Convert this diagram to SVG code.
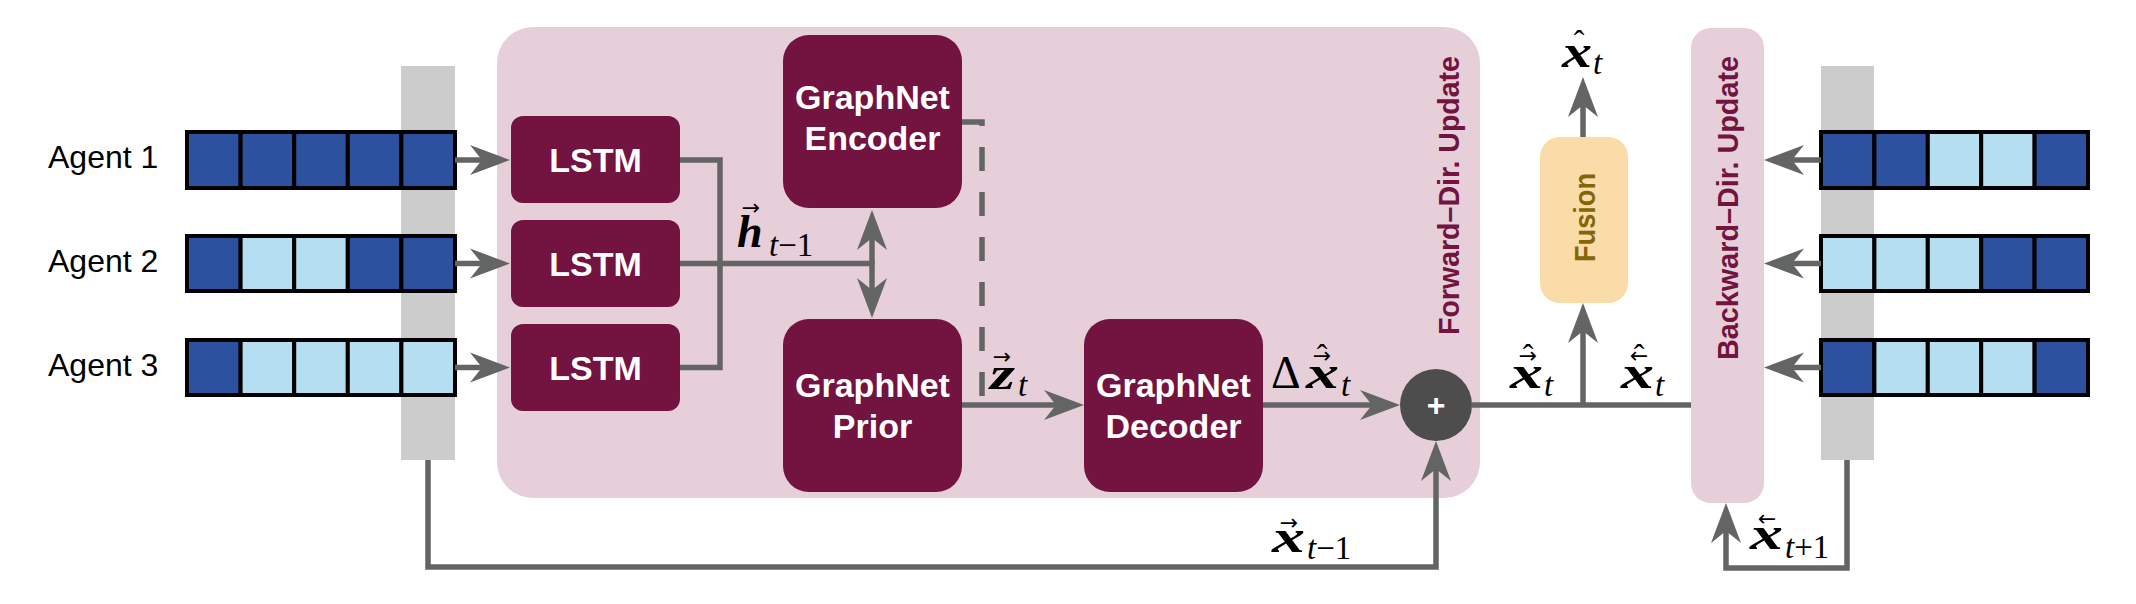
<svg xmlns="http://www.w3.org/2000/svg" width="2136" height="604" viewBox="0 0 2136 604">
<defs>
<style>
.agent{font-family:"Liberation Sans",Arial,sans-serif;font-size:32px;fill:#000}
.node{fill:#721340}
.nlab{font-family:"Liberation Sans",Arial,sans-serif;font-weight:bold;font-size:34px;fill:#fff;text-anchor:middle}
.pink{fill:#E6CFD9}
.vlab{font-family:"Liberation Sans",Arial,sans-serif;font-weight:bold;font-size:29px;fill:#721340}
.bar{fill:#CCCCCC}
.d{fill:#2C519E;stroke:#000;stroke-width:4}
.l{fill:#B5DFF0;stroke:#000;stroke-width:4}
.c{fill:none;stroke:#636564;stroke-width:5.5;stroke-linejoin:miter}
.arr{marker-end:url(#ah)}
.mb{font-family:"Liberation Serif","Times New Roman",serif;font-weight:bold;font-style:italic;font-size:46px;fill:#000}
.ms{font-family:"Liberation Serif","Times New Roman",serif;font-size:33px;fill:#000}
.it{font-style:italic}
.acc{font-family:"DejaVu Sans",sans-serif;font-size:22px;fill:#000;text-anchor:middle}
.hat{font-family:"Liberation Serif",serif;font-size:32px;fill:#000;text-anchor:middle}
</style>
<marker id="ah" viewBox="-16 -16 42 32" markerWidth="42" markerHeight="32" refX="0" refY="0" orient="auto" markerUnits="userSpaceOnUse">
<path d="M25,0 L-15,-15 L-3,0 L-15,15 Z" fill="#636564"/>
</marker>
</defs>

<g id="forward-block">
<rect class="pink" x="497" y="27" width="983" height="471" rx="36"/>
<text class="vlab" transform="translate(1459,335) rotate(-90)" textLength="279" lengthAdjust="spacingAndGlyphs">Forward–Dir. Update</text>
</g>
<g id="backward-block">
<rect class="pink" x="1691" y="28" width="73" height="475" rx="20"/>
<text class="vlab" transform="translate(1738,360) rotate(-90)" textLength="304" lengthAdjust="spacingAndGlyphs">Backward–Dir. Update</text>
</g>

<g id="left-bar"><rect class="bar" x="401" y="66" width="54" height="394"/></g>
<g id="right-bar"><rect class="bar" x="1821" y="66" width="53" height="394"/></g>

<g id="agent1">
<text class="agent" x="48" y="168">Agent 1</text>
<rect class="d" x="187" y="132" width="53.6" height="56"/><rect class="d" x="240.6" y="132" width="53.6" height="56"/><rect class="d" x="294.2" y="132" width="53.6" height="56"/><rect class="d" x="347.8" y="132" width="53.6" height="56"/><rect class="d" x="401.4" y="132" width="53.6" height="56"/>
</g>
<g id="agent2">
<text class="agent" x="48" y="272">Agent 2</text>
<rect class="d" x="187" y="236" width="53.6" height="55"/><rect class="l" x="240.6" y="236" width="53.6" height="55"/><rect class="l" x="294.2" y="236" width="53.6" height="55"/><rect class="d" x="347.8" y="236" width="53.6" height="55"/><rect class="d" x="401.4" y="236" width="53.6" height="55"/>
</g>
<g id="agent3">
<text class="agent" x="48" y="376">Agent 3</text>
<rect class="d" x="187" y="340" width="53.6" height="55"/><rect class="l" x="240.6" y="340" width="53.6" height="55"/><rect class="l" x="294.2" y="340" width="53.6" height="55"/><rect class="l" x="347.8" y="340" width="53.6" height="55"/><rect class="l" x="401.4" y="340" width="53.6" height="55"/>
</g>

<g id="future1">
<rect class="d" x="1821" y="132" width="53.4" height="56"/><rect class="d" x="1874.4" y="132" width="53.4" height="56"/><rect class="l" x="1927.8" y="132" width="53.4" height="56"/><rect class="l" x="1981.2" y="132" width="53.4" height="56"/><rect class="d" x="2034.6" y="132" width="53.4" height="56"/>
</g>
<g id="future2">
<rect class="l" x="1821" y="236" width="53.4" height="55"/><rect class="l" x="1874.4" y="236" width="53.4" height="55"/><rect class="l" x="1927.8" y="236" width="53.4" height="55"/><rect class="d" x="1981.2" y="236" width="53.4" height="55"/><rect class="d" x="2034.6" y="236" width="53.4" height="55"/>
</g>
<g id="future3">
<rect class="d" x="1821" y="340" width="53.4" height="55"/><rect class="l" x="1874.4" y="340" width="53.4" height="55"/><rect class="l" x="1927.8" y="340" width="53.4" height="55"/><rect class="l" x="1981.2" y="340" width="53.4" height="55"/><rect class="d" x="2034.6" y="340" width="53.4" height="55"/>
</g>

<g id="lstm1"><rect class="node" x="511" y="116" width="169" height="87" rx="12"/><text class="nlab" x="595.5" y="172">LSTM</text></g>
<g id="lstm2"><rect class="node" x="511" y="220" width="169" height="87" rx="12"/><text class="nlab" x="595.5" y="276">LSTM</text></g>
<g id="lstm3"><rect class="node" x="511" y="324" width="169" height="87" rx="12"/><text class="nlab" x="595.5" y="380">LSTM</text></g>

<g id="encoder"><rect class="node" x="783" y="35" width="179" height="173" rx="26"/><text class="nlab" x="872.5" y="109">GraphNet</text><text class="nlab" x="872.5" y="150">Encoder</text></g>
<g id="prior"><rect class="node" x="783" y="319" width="179" height="173" rx="26"/><text class="nlab" x="872.5" y="397">GraphNet</text><text class="nlab" x="872.5" y="438">Prior</text></g>
<g id="decoder"><rect class="node" x="1084" y="319" width="179" height="173" rx="26"/><text class="nlab" x="1173.5" y="397">GraphNet</text><text class="nlab" x="1173.5" y="438">Decoder</text></g>

<g id="fusion"><rect x="1540" y="137" width="88" height="166" rx="20" fill="#F9DCA8"/><text class="vlab" style="fill:#85650A" transform="translate(1595,262) rotate(-90)" textLength="89" lengthAdjust="spacingAndGlyphs">Fusion</text></g>

<g id="sum"><circle cx="1436" cy="405" r="36" fill="#4D4D4D"/><text x="1436" y="416" font-family="Liberation Sans,Arial,sans-serif" font-weight="bold" font-size="32" fill="#fff" text-anchor="middle">+</text></g>

<g id="connectors">
<path class="c arr" d="M455,160 H485"/>
<path class="c arr" d="M455,263.5 H485"/>
<path class="c arr" d="M455,367.5 H485"/>
<path class="c" d="M680,160 H720 V367.5 H680"/>
<path class="c" d="M680,263.5 H872"/>
<path class="c arr" d="M872,265 V235"/>
<path class="c arr" d="M872,261 V293"/>
<path class="c" d="M962,122 H982 V405" stroke-dasharray="24 21"/>
<path class="c arr" d="M962,405 H1059"/>
<path class="c arr" d="M1263,405 H1375"/>
<path class="c" d="M1472,405 H1691"/>
<path class="c arr" d="M1583,405 V328"/>
<path class="c arr" d="M1583,137 V102"/>
<path class="c arr" d="M428,460 V567 H1436 V466"/>
<path class="c arr" d="M1847,460 V568 H1726 V528"/>
<path class="c arr" d="M1821,160 H1789"/>
<path class="c arr" d="M1821,263.5 H1789"/>
<path class="c arr" d="M1821,367.5 H1789"/>
</g>

<g id="labels">
<text class="acc" x="751" y="215">→</text>
<text class="mb" x="737" y="247">h</text>
<text class="ms" x="769" y="256"><tspan class="it">t</tspan>−1</text>

<text class="acc" x="1002" y="364">→</text>
<text class="mb" x="990" y="389" textLength="25" lengthAdjust="spacingAndGlyphs">z</text>
<text class="ms it" x="1018" y="396">t</text>

<text class="ms" x="1271" y="388" style="font-size:46px">Δ</text>
<text class="hat" x="1322" y="366">ˆ</text>
<text class="acc" x="1322" y="363">→</text>
<text class="mb" x="1306" y="388" textLength="33" lengthAdjust="spacingAndGlyphs">x</text>
<text class="ms it" x="1341" y="396">t</text>

<text class="hat" x="1528" y="366">ˆ</text>
<text class="acc" x="1528" y="363">→</text>
<text class="mb" x="1510" y="388" textLength="33" lengthAdjust="spacingAndGlyphs">x</text>
<text class="ms it" x="1544" y="396">t</text>

<text class="hat" x="1639" y="366">ˆ</text>
<text class="acc" x="1639" y="363">←</text>
<text class="mb" x="1621" y="388" textLength="33" lengthAdjust="spacingAndGlyphs">x</text>
<text class="ms it" x="1655" y="396">t</text>

<text class="hat" x="1579" y="52">ˆ</text>
<text class="mb" x="1562" y="67" textLength="30" lengthAdjust="spacingAndGlyphs">x</text>
<text class="ms it" x="1593" y="74">t</text>

<text class="acc" x="1289" y="530">→</text>
<text class="mb" x="1272" y="552" textLength="33" lengthAdjust="spacingAndGlyphs">x</text>
<text class="ms" x="1307" y="559"><tspan class="it">t</tspan>−1</text>

<text class="acc" x="1767" y="526">←</text>
<text class="mb" x="1750" y="549" textLength="33" lengthAdjust="spacingAndGlyphs">x</text>
<text class="ms" x="1785" y="558"><tspan class="it">t</tspan>+1</text>
</g>
</svg>
